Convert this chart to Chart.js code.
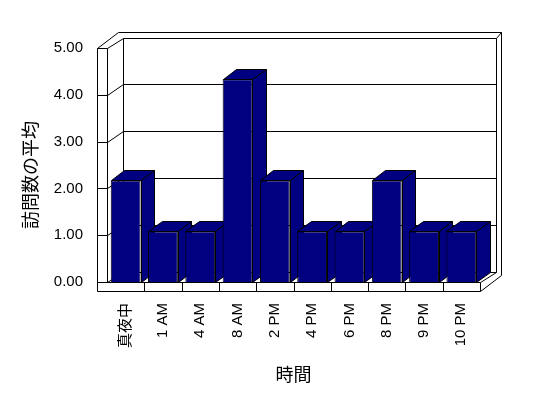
<!DOCTYPE html>
<html>
<head>
<meta charset="utf-8">
<script src="https://cdn.jsdelivr.net/npm/chart.js@4/dist/chart.umd.min.js"></script>
<style>
  html, body { margin: 0; padding: 0; background: #fff; }
  canvas { display: block; }
</style>
</head>
<body>
<canvas id="chart" width="548" height="398"></canvas>
<script>
// ── Data ───────────────────────────────────────────────────────
const categories = ['真夜中', '1 AM', '4 AM', '8 AM', '2 PM', '4 PM', '6 PM', '8 PM', '9 PM', '10 PM'];
const visits = [2.17, 1.08, 1.08, 4.33, 2.17, 1.08, 1.08, 2.17, 1.08, 1.08];
const yTicks = [0, 1, 2, 3, 4, 5];
const xTitle = '時間';
const yTitle = '訪問数の平均';

// ── 3D look (pixel offsets for walls, floor slab and bar depth) ─
const NAVY = '#000080';
const WALL = 10, SLAB = 9;
const BACK = { x: 15.5, y: -10.5 };
const OUTER = { x: 21, y: -16 };
const DEPTH = { x: 13.5, y: -10.5 };
const FONT = "'Liberation Sans', 'Noto Sans CJK JP', sans-serif";

Chart.defaults.color = '#000';
Chart.defaults.font.family = FONT;

const px = v => Math.round(v) + 0.5;

function seg(ctx, x1, y1, x2, y2) {
  ctx.beginPath();
  ctx.moveTo(px(x1), px(y1));
  ctx.lineTo(px(x2), px(y2));
  ctx.stroke();
}

function face(ctx, pts) {
  ctx.beginPath();
  pts.forEach(([x, y], i) => i ? ctx.lineTo(px(x), px(y)) : ctx.moveTo(px(x), px(y)));
  ctx.closePath();
  ctx.fillStyle = NAVY;
  ctx.fill();
  ctx.stroke();
}

// walls, floor, back gridlines and the top/side faces of each column
const box3d = {
  id: 'box3d',
  beforeDatasetsDraw(chart) {
    const { ctx, chartArea: a, scales: { x, y } } = chart;
    const L = a.left, R = a.right, T = a.top, B = a.bottom;
    ctx.save();
    ctx.strokeStyle = '#000';
    ctx.lineWidth = 1;

    // left wall + back wall outline
    seg(ctx, L - WALL, T, L - WALL, B + SLAB);
    seg(ctx, L, T, L, B);
    seg(ctx, L - WALL, T, L - WALL + OUTER.x, T + OUTER.y);
    seg(ctx, L - WALL + OUTER.x, T + OUTER.y, R + OUTER.x, T + OUTER.y);
    seg(ctx, R + BACK.x, T + BACK.y, R + OUTER.x, T + OUTER.y);
    seg(ctx, R + OUTER.x, T + OUTER.y, R + OUTER.x, B + SLAB + OUTER.y);
    seg(ctx, R + BACK.x, T + BACK.y, R + BACK.x, B + BACK.y);
    seg(ctx, L + BACK.x, T + BACK.y, L + BACK.x, B + BACK.y);

    // gridlines: tick on wall front, diagonal along wall, line on back wall
    yTicks.forEach(v => {
      const gy = y.getPixelForValue(v);
      seg(ctx, L - WALL, gy, L, gy);
      seg(ctx, L, gy, L + BACK.x, gy + BACK.y);
      seg(ctx, L + BACK.x, gy + BACK.y, R + BACK.x, gy + BACK.y);
    });

    // floor slab
    seg(ctx, L - WALL, B, R, B);
    seg(ctx, L - WALL, B + SLAB, R, B + SLAB);
    seg(ctx, R, B, R, B + SLAB);
    seg(ctx, R, B, R + BACK.x, B + BACK.y);
    seg(ctx, R, B + SLAB, R + OUTER.x, B + SLAB + OUTER.y);
    for (let i = 0; i < categories.length - 1; i++) {
      const sx = x.getPixelForValue(i + 0.5);
      seg(ctx, sx, B, sx, B + SLAB);
    }

    // column top and side faces (front faces are the Chart.js bars)
    chart.getDatasetMeta(0).data.forEach(bar => {
      const { x: cx, y: top, base, width } = bar.getProps(['x', 'y', 'base', 'width'], true);
      const l = cx - width / 2, r = cx + width / 2;
      face(ctx, [[l, top], [l + DEPTH.x, top + DEPTH.y], [r + DEPTH.x, top + DEPTH.y], [r, top]]);
      face(ctx, [[r, top], [r + DEPTH.x, top + DEPTH.y], [r + DEPTH.x, base + DEPTH.y], [r, base]]);
    });
    ctx.restore();
  },
  // value-axis title, sitting a little below the middle of the plot as in Excel
  afterDraw(chart) {
    const { ctx, chartArea: a } = chart;
    ctx.save();
    ctx.translate(32, (a.top + a.bottom) / 2 + 10);
    ctx.rotate(-Math.PI / 2);
    ctx.font = '18px ' + FONT;
    ctx.fillStyle = '#000';
    ctx.textAlign = 'center';
    ctx.textBaseline = 'middle';
    ctx.fillText(yTitle, 0, 0);
    ctx.restore();
  }
};

new Chart(document.getElementById('chart'), {
  type: 'bar',
  data: {
    labels: categories,
    datasets: [{
      data: visits,
      backgroundColor: NAVY,
      borderColor: '#000',
      borderWidth: 1,
      barPercentage: 0.8,
      categoryPercentage: 1.0
    }]
  },
  options: {
    responsive: false, animation: false,
    layout: { padding: { top: 48, right: 68, left: 0, bottom: 0 } },
    plugins: { legend: { display: false }, tooltip: { enabled: false } },
    scales: {
      x: {
        grid: { display: false, drawTicks: false },
        border: { display: false },
        ticks: { autoSkip: false, minRotation: 90, maxRotation: 90, padding: 21, font: { size: 15 } },
        title: { display: true, text: xTitle, font: { size: 18 }, padding: { top: 0, bottom: 11 } },
        afterFit(scale) { scale.height = 116; scale.paddingLeft = 0; scale.paddingRight = 0; }
      },
      y: {
        min: 0, max: 5,
        grid: { display: false, drawTicks: false },
        border: { display: false },
        ticks: { stepSize: 1, padding: 24, font: { size: 15 }, callback: v => v.toFixed(2) },
        afterFit(scale) { scale.width = 107; scale.paddingTop = 0; scale.paddingBottom = 0; }
      }
    }
  },
  plugins: [box3d]
});
</script>
</body>
</html>
